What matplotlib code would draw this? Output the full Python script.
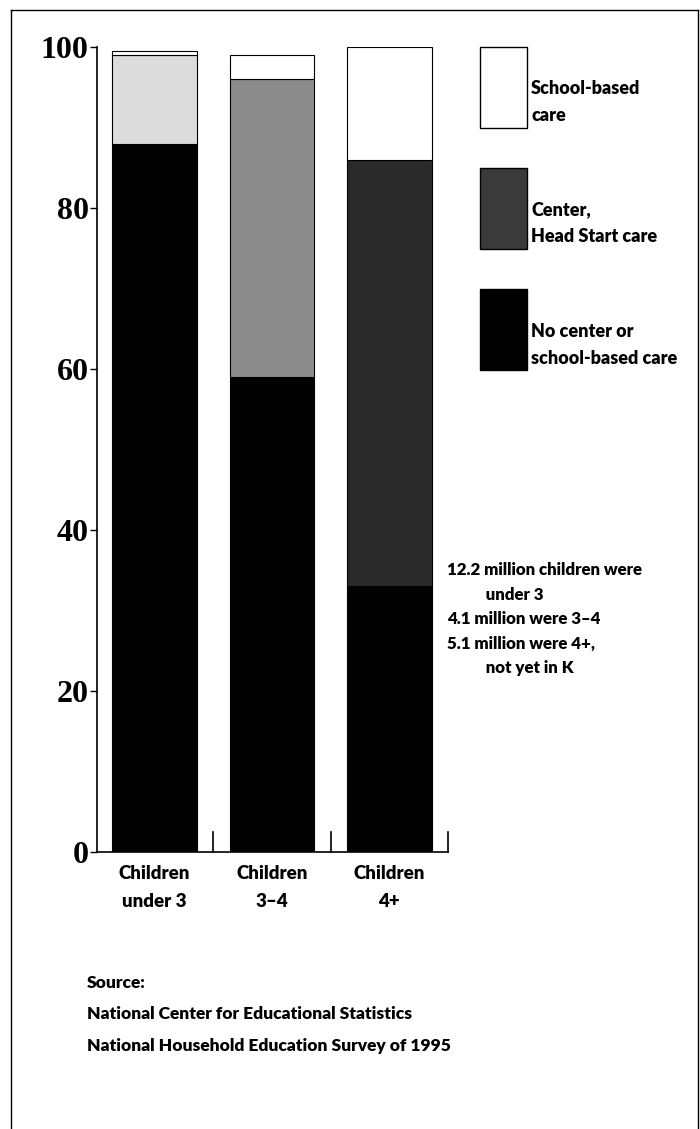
import matplotlib.pyplot as plt
from matplotlib.patches import Rectangle
from matplotlib.lines import Line2D

categories = ['Children\nunder 3', 'Children\n3\u20134', 'Children\n4+']
no_center = [88, 59, 33]
center = [11, 37, 53]
school = [0.5, 3, 14]
yticks = [0, 20, 40, 60, 80, 100]

legend_labels = ['School-based\ncare', 'Center,\nHead Start care', 'No center or\nschool-based care']
note_lines = ['12.2 million children were', '          under 3', '4.1 million were 3\u20134',
              '5.1 million were 4+,', '          not yet in K']
source_lines = ['Source:', 'National Center for Educational Statistics',
                'National Household Education Survey of 1995']

W, H = 700, 1129
sans = ['Lato', 'DejaVu Sans']
serif = ['Liberation Serif', 'DejaVu Serif']
wt = 'heavy'

fig = plt.figure(figsize=(W / 100, H / 100), dpi=100)
ax = fig.add_axes([97 / W, 1 - 852 / H, 351 / W, 805 / H])

def fx(px):
    return px / W

def fy(py):
    return 1 - py / H

x = range(len(categories))
center_colors = ['#dcdcdc', '#8c8c8c', '#2a2a2a']
bottom2 = [a + b for a, b in zip(no_center, center)]
ax.bar(x, no_center, width=0.72, color='black', edgecolor='black', linewidth=0.8)
ax.bar(x, center, bottom=no_center, width=0.72, color=center_colors, edgecolor='black', linewidth=0.8)
ax.bar(x, school, bottom=bottom2, width=0.72, color='white', edgecolor='black', linewidth=0.8)

ax.set_xlim(-0.489, 2.5)
ax.set_ylim(0, 100)
ax.spines['top'].set_visible(False)
ax.spines['right'].set_visible(False)
ax.spines['left'].set_linewidth(1.2)
ax.spines['bottom'].set_linewidth(1.2)
ax.set_yticks(yticks)
ax.set_yticklabels([str(t) for t in yticks], fontfamily=serif, fontweight='bold', fontsize=23)
ax.tick_params(axis='y', direction='out', length=5, width=1, pad=1)
ax.set_xticks([])
for t in [0.5, 1.5, 2.5]:
    ax.plot([t, t], [0, 2.5], color='black', lw=1.2, clip_on=False)

for i, lab in enumerate(categories):
    ax.text(i, -1.6, lab, ha='center', va='top', fontfamily=sans, fontweight=wt,
            fontsize=13.5, linespacing=1.8)

# legend boxes
boxes = [(47, 128, 'white'), (168, 249, '#3a3a3a'), (289, 370, 'black')]
label_y = [102, 223, 345]
for (t, b, c), lab, ly in zip(boxes, legend_labels, label_y):
    fig.add_artist(Rectangle((fx(480), fy(b)), fx(527) - fx(480), fy(t) - fy(b),
                             transform=fig.transFigure, facecolor=c, edgecolor='black', lw=1))
    fig.text(fx(531), fy(ly), lab, ha='left', va='center', fontfamily=sans,
             fontweight=wt, fontsize=13, linespacing=1.75)

for i, line in enumerate(note_lines):
    fig.text(fx(447), fy(570 + i * 24.5), line, ha='left', va='center', fontfamily=sans,
             fontweight=wt, fontsize=12.2)

src_y = [983, 1014, 1046]
for line, y in zip(source_lines, src_y):
    fig.text(fx(87), fy(y), line, ha='left', va='center', fontfamily=sans,
             fontweight=wt, fontsize=12.5)

# frame around the figure
fig.add_artist(Line2D([fx(11), fx(698)], [fy(10), fy(10)], transform=fig.transFigure, color='black', lw=1))
fig.add_artist(Line2D([fx(11), fx(11)], [fy(10), 0], transform=fig.transFigure, color='black', lw=1))
fig.add_artist(Line2D([fx(698), fx(698)], [fy(10), 0], transform=fig.transFigure, color='black', lw=1))

fig.savefig('out.png', dpi=100)
